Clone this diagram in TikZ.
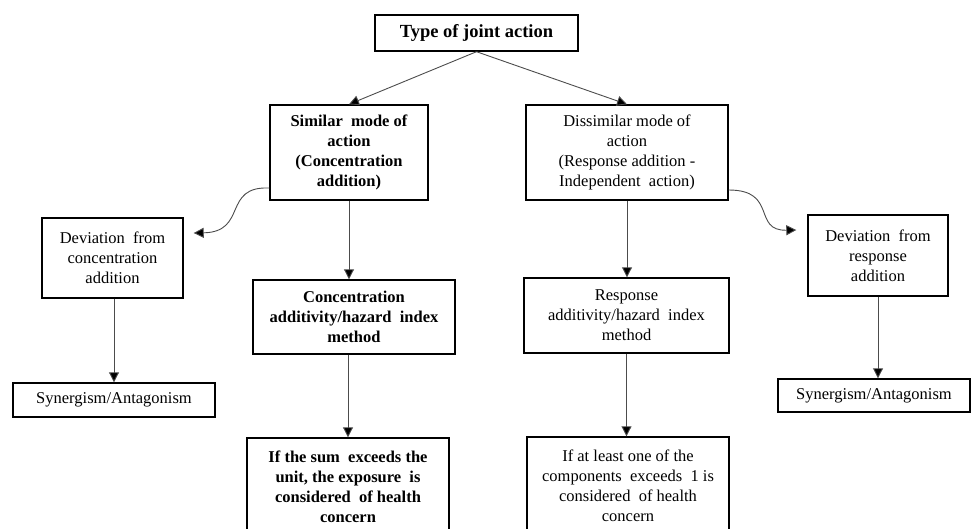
\documentclass[tikz,border=0pt]{standalone}
\usepackage{fontspec}
\setmainfont{Liberation Serif}
\usetikzlibrary{arrows.meta}
\begin{document}
\begin{tikzpicture}[x=1pt,y=-1pt,
  box/.style={draw=black,line width=1.4pt,rectangle,align=center,inner sep=0pt,
    font=\fontsize{16.5}{20}\selectfont},
  conn/.style={draw=black!70,line width=0.9pt,-{Triangle[width=10pt,length=10pt,fill=black]}}]
\useasboundingbox (0,0) rectangle (971,528);
\node[box,minimum width=203pt,minimum height=36pt,font=\fontsize{18.5}{22}\selectfont\bfseries] (top) at (476.5,33) {Type of joint action};
\node[box,minimum width=158pt,minimum height=95pt,font=\fontsize{16.5}{20}\selectfont\bfseries] (sim) at (349,152.5) {Similar\ \ mode of\\action\\(Concentration\\addition)};
\node[box,minimum width=202pt,minimum height=95pt] (dis) at (627,152.5) {Dissimilar mode of\\action\\(Response addition -\\Independent\ \ action)};
\node[box,minimum width=141pt,minimum height=80pt] (devl) at (112.5,258) {Deviation\ \ from\\concentration\\addition};
\node[box,minimum width=140pt,minimum height=81pt] (devr) at (878,255.5) {Deviation\ \ from\\response\\addition};
\node[box,minimum width=202pt,minimum height=34pt] (synl) at (114,400) {Synergism/Antagonism};
\node[box,minimum width=192pt,minimum height=33pt] (synr) at (874,395.5) {Synergism/Antagonism};
\node[box,minimum width=202pt,minimum height=74pt,font=\fontsize{16.5}{20}\selectfont\bfseries] (conc) at (354,317) {Concentration\\additivity/hazard\ \ index\\method};
\node[box,minimum width=205pt,minimum height=75pt] (resp) at (626.5,315.5) {Response\\additivity/hazard\ \ index\\method};
\node[box,minimum width=202pt,minimum height=98pt,font=\fontsize{16.5}{20}\selectfont\bfseries] (botl) at (348,487) {If the sum\ \ exceeds the\\unit,\ the exposure\ \ is\\considered\ \ of health\\concern};
\node[box,minimum width=202pt,minimum height=98pt] (botr) at (628,486) {If at least one of the\\components\ \ exceeds\ \ 1 is\\considered\ \ of health\\concern};
\draw[conn] (top.south) -- (sim.north);
\draw[conn] (top.south) -- (dis.north);
\draw[conn] (sim.south) -- (sim.south |- conc.north);
\draw[conn] (dis.south) -- (dis.south |- resp.north);
\draw[conn] (conc.south -| botl.north) -- (botl.north);
\draw[conn] (resp.south) -- (resp.south |- botr.north);
\draw[conn] (devl.south -| synl.north) -- (synl.north);
\draw[conn] (devr.south) -- (devr.south |- synr.north);
\coordinate (sl) at (sim.west |- 0,188);
\coordinate (dr) at (dis.east |- 0,190);
\draw[conn] (sl) .. controls (222,186) and (248,232) .. ([xshift=10pt]devl.east |- 0,233);
\draw[conn] (dr) .. controls (778,190) and (752,231) .. ([xshift=-11pt]devr.west |- 0,230);
\end{tikzpicture}
\end{document}
